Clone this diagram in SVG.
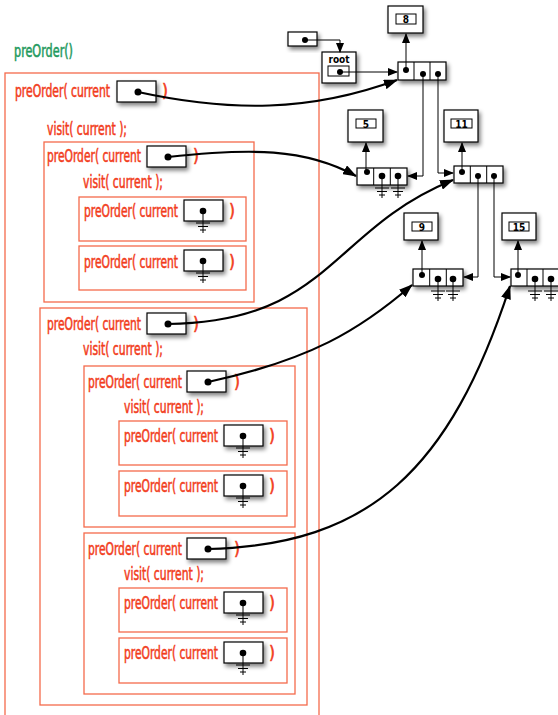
<svg xmlns="http://www.w3.org/2000/svg" xmlns:xlink="http://www.w3.org/1999/xlink" width="558" height="715" viewBox="0 0 558 715">
<defs>
<style>
.frame{fill:none;stroke:#f46a4c;stroke-width:1.3}
.t{font-family:"DejaVu Sans Condensed","DejaVu Sans",sans-serif;font-stretch:condensed;font-size:17px;fill:#f23c1c;stroke:#f23c1c;stroke-width:0.55}
.g{fill:#1f9a5e;stroke:#1f9a5e}
.pb{fill:#fff;stroke:#000;stroke-width:1.2;filter:url(#sh)}
.cell{fill:#fff;stroke:#000;stroke-width:1}
.ln{fill:none;stroke:#000;stroke-width:1}
.thick{fill:none;stroke:#000;stroke-width:2.2}
.num{font-family:"DejaVu Sans Condensed","DejaVu Sans",sans-serif;font-size:10px;font-weight:bold;fill:#000}
</style>
<filter id="sh" x="-30%" y="-30%" width="170%" height="180%">
<feGaussianBlur in="SourceAlpha" stdDeviation="2"/>
<feOffset dx="2" dy="3" result="b"/>
<feComponentTransfer><feFuncA type="linear" slope="0.5"/></feComponentTransfer>
<feMerge><feMergeNode/><feMergeNode in="SourceGraphic"/></feMerge>
</filter>
<marker id="ah" markerUnits="userSpaceOnUse" markerWidth="10" markerHeight="8" refX="9" refY="4" orient="auto"><path d="M0,0 L10,4 L0,8 Z" fill="#000"/></marker>
<marker id="ahb" markerUnits="userSpaceOnUse" markerWidth="14" markerHeight="10" refX="13" refY="5" orient="auto"><path d="M0,0 L14,5 L0,10 Z" fill="#000"/></marker>
<g id="gnd"><path d="M0,0 V22 M-7,12 H7 M-5,15.5 H5 M-3,19 H3" fill="none" stroke="#000" stroke-width="1"/><circle cx="0" cy="0" r="3.3" fill="#000"/></g>
<g id="nullptr"><rect x="-19" y="-11" width="39" height="21" class="pb"/><use xlink:href="#gnd"/></g>
<g id="ptr"><rect x="-21" y="-11" width="39" height="21" class="pb"/><circle cx="0" cy="0" r="3.5" fill="#000"/></g>
</defs>

<text x="14" y="57" class="t g" textLength="59" lengthAdjust="spacingAndGlyphs">preOrder()</text>

<g id="call0">
<rect x="5" y="73" width="314" height="660" class="frame"/>
<text x="15" y="97" class="t" textLength="95" lengthAdjust="spacingAndGlyphs">preOrder( current</text>
<use xlink:href="#ptr" x="138" y="92"/>
<text x="162" y="97" class="t">)</text>
<text x="47" y="135" class="t" textLength="80" lengthAdjust="spacingAndGlyphs">visit( current );</text>
</g>

<g id="call5">
<rect x="44" y="142" width="210" height="160" class="frame"/>
<text x="47" y="162" class="t" textLength="94" lengthAdjust="spacingAndGlyphs">preOrder( current</text>
<use xlink:href="#ptr" x="168" y="157"/>
<text x="193" y="162" class="t">)</text>
<text x="83" y="188" class="t" textLength="80" lengthAdjust="spacingAndGlyphs">visit( current );</text>
</g>
<g id="call5L">
<rect x="79" y="197" width="167" height="44" class="frame"/>
<text x="84" y="217" class="t" textLength="94" lengthAdjust="spacingAndGlyphs">preOrder( current</text>
<use xlink:href="#nullptr" x="203" y="211"/>
<text x="229" y="217" class="t">)</text>
</g>
<g id="call5R">
<rect x="79" y="246" width="167" height="44" class="frame"/>
<text x="84" y="268" class="t" textLength="94" lengthAdjust="spacingAndGlyphs">preOrder( current</text>
<use xlink:href="#nullptr" x="203" y="261"/>
<text x="229" y="268" class="t">)</text>
</g>

<g id="call11">
<rect x="40" y="308" width="267" height="397" class="frame"/>
<text x="47" y="330" class="t" textLength="94" lengthAdjust="spacingAndGlyphs">preOrder( current</text>
<use xlink:href="#ptr" x="168" y="324"/>
<text x="193" y="330" class="t">)</text>
<text x="83" y="355" class="t" textLength="80" lengthAdjust="spacingAndGlyphs">visit( current );</text>
</g>

<g id="call9">
<rect x="84" y="366" width="211" height="161" class="frame"/>
<text x="88" y="388" class="t" textLength="94" lengthAdjust="spacingAndGlyphs">preOrder( current</text>
<use xlink:href="#ptr" x="208" y="382"/>
<text x="234" y="388" class="t">)</text>
<text x="124" y="413" class="t" textLength="80" lengthAdjust="spacingAndGlyphs">visit( current );</text>
</g>
<g id="call9L">
<rect x="119" y="421" width="168" height="44" class="frame"/>
<text x="124" y="442" class="t" textLength="94" lengthAdjust="spacingAndGlyphs">preOrder( current</text>
<use xlink:href="#nullptr" x="243" y="436"/>
<text x="269" y="442" class="t">)</text>
</g>
<g id="call9R">
<rect x="119" y="471" width="168" height="45" class="frame"/>
<text x="124" y="492" class="t" textLength="94" lengthAdjust="spacingAndGlyphs">preOrder( current</text>
<use xlink:href="#nullptr" x="243" y="486"/>
<text x="269" y="492" class="t">)</text>
</g>

<g id="call15">
<rect x="84" y="533" width="211" height="161" class="frame"/>
<text x="88" y="555" class="t" textLength="94" lengthAdjust="spacingAndGlyphs">preOrder( current</text>
<use xlink:href="#ptr" x="208" y="549"/>
<text x="234" y="555" class="t">)</text>
<text x="124" y="580" class="t" textLength="80" lengthAdjust="spacingAndGlyphs">visit( current );</text>
</g>
<g id="call15L">
<rect x="119" y="588" width="168" height="44" class="frame"/>
<text x="124" y="609" class="t" textLength="94" lengthAdjust="spacingAndGlyphs">preOrder( current</text>
<use xlink:href="#nullptr" x="243" y="603"/>
<text x="269" y="609" class="t">)</text>
</g>
<g id="call15R">
<rect x="119" y="638" width="168" height="45" class="frame"/>
<text x="124" y="659" class="t" textLength="94" lengthAdjust="spacingAndGlyphs">preOrder( current</text>
<use xlink:href="#nullptr" x="243" y="653"/>
<text x="269" y="659" class="t">)</text>
</g>

<g id="rootvar">
<rect x="288" y="32" width="29" height="14" class="pb"/>
<circle cx="305" cy="40" r="3" fill="#000"/>
</g>
<g id="rootbox">
<rect x="322" y="52" width="34" height="31" class="pb"/>
<text x="339" y="63" class="num" text-anchor="middle" font-size="8.5">root</text>
<rect x="328" y="66" width="21" height="10" class="cell"/>
<circle cx="340" cy="72" r="3" fill="#000"/>
</g>

<g id="node8">
<rect x="388" y="6" width="35" height="27" class="pb"/>
<rect x="396" y="14" width="20" height="10" class="cell"/>
<text x="406" y="23" class="num" text-anchor="middle">8</text>
<rect x="398" y="62" width="48" height="18" class="pb"/>
<path d="M414,62 V80 M430,62 V80" class="ln"/>
<circle cx="406" cy="70" r="3" fill="#000"/>
<circle cx="423" cy="74" r="3" fill="#000"/>
<circle cx="438" cy="74" r="3" fill="#000"/>
</g>

<g id="node5">
<rect x="348" y="110" width="35" height="32" class="pb"/>
<rect x="356" y="119" width="20" height="9" class="cell"/>
<text x="366" y="127.5" class="num" text-anchor="middle">5</text>
<rect x="357" y="168" width="50" height="17" class="pb"/>
<path d="M373.7,168 V185 M390.3,168 V185" class="ln"/>
<circle cx="367" cy="172" r="3" fill="#000"/>
<use xlink:href="#gnd" x="382" y="176"/>
<use xlink:href="#gnd" x="398" y="176"/>
</g>

<g id="node11">
<rect x="444" y="110" width="34" height="32" class="pb"/>
<rect x="451" y="119" width="21" height="9" class="cell"/>
<text x="461.5" y="127.5" class="num" text-anchor="middle">11</text>
<rect x="454" y="166" width="49" height="17" class="pb"/>
<path d="M470.3,166 V183 M486.7,166 V183" class="ln"/>
<circle cx="462" cy="172" r="3" fill="#000"/>
<circle cx="478" cy="176" r="3" fill="#000"/>
<circle cx="494" cy="176" r="3" fill="#000"/>
</g>

<g id="node9">
<rect x="404" y="213" width="34" height="27" class="pb"/>
<rect x="412" y="222" width="20" height="9" class="cell"/>
<text x="422" y="230.5" class="num" text-anchor="middle">9</text>
<rect x="413" y="269" width="50" height="17" class="pb"/>
<path d="M429.7,269 V286 M446.3,269 V286" class="ln"/>
<circle cx="422" cy="275" r="3" fill="#000"/>
<use xlink:href="#gnd" x="438" y="279"/>
<use xlink:href="#gnd" x="453" y="279"/>
</g>

<g id="node15">
<rect x="502" y="213" width="34" height="27" class="pb"/>
<rect x="509" y="222" width="20" height="9" class="cell"/>
<text x="519" y="230.5" class="num" text-anchor="middle">15</text>
<rect x="511" y="269" width="48" height="17" class="pb"/>
<path d="M527,269 V286 M543,269 V286" class="ln"/>
<circle cx="518" cy="275" r="3" fill="#000"/>
<use xlink:href="#gnd" x="535" y="279"/>
<use xlink:href="#gnd" x="551" y="279"/>
</g>

<g id="connectors">
<path d="M305,40 H340 V52" class="ln" marker-end="url(#ah)"/>
<path d="M340,72 H397" class="ln" marker-end="url(#ah)"/>
<path d="M406,70 V34" class="ln" marker-end="url(#ah)"/>
<path d="M423,74 V176 H408" class="ln" marker-end="url(#ah)"/>
<path d="M438,74 V173 H453" class="ln" marker-end="url(#ah)"/>
<path d="M366,172 V143" class="ln" marker-end="url(#ah)"/>
<path d="M462,172 V143" class="ln" marker-end="url(#ah)"/>
<path d="M478,176 V277 H464" class="ln" marker-end="url(#ah)"/>
<path d="M494,176 V277 H510" class="ln" marker-end="url(#ah)"/>
<path d="M422,275 V241" class="ln" marker-end="url(#ah)"/>
<path d="M518,275 V241" class="ln" marker-end="url(#ah)"/>
<path d="M138,92 C230,112 310,112 397,80" class="thick" marker-end="url(#ahb)"/>
<path d="M168,157 C250,148 305,148 356,176" class="thick" marker-end="url(#ahb)"/>
<path d="M168,324 C330,322 330,230 453,180" class="thick" marker-end="url(#ahb)"/>
<path d="M208,382 C310,360 360,330 412,285" class="thick" marker-end="url(#ahb)"/>
<path d="M208,549 C370,545 450,470 510,286" class="thick" marker-end="url(#ahb)"/>
</g>
</svg>
